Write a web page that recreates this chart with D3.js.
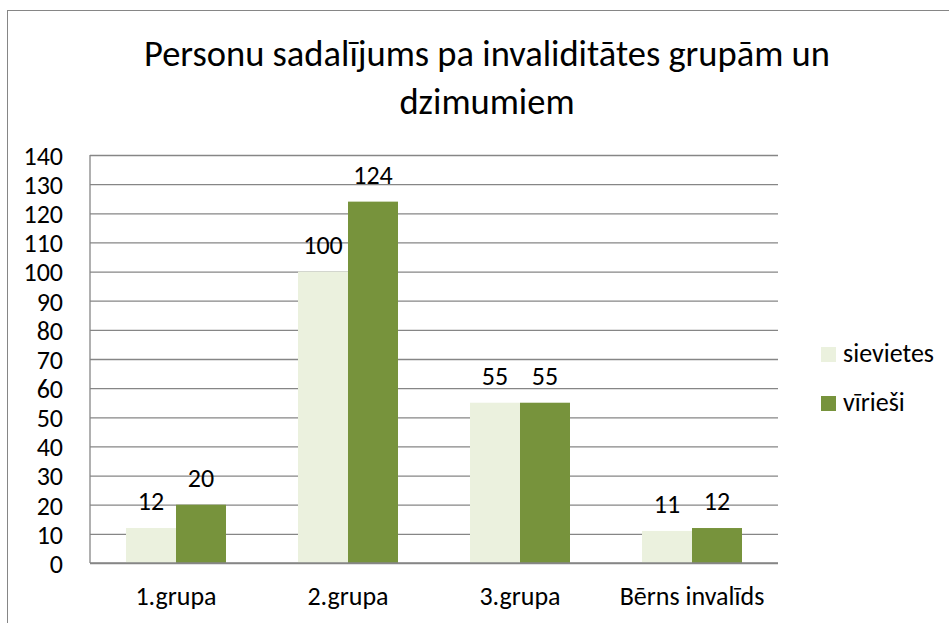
<!DOCTYPE html>
<html>
<head>
<meta charset="utf-8">
<script src="https://cdn.jsdelivr.net/npm/d3@7"></script>
<style>
  body { margin: 0; background: #fff; }
  text { font-family: Calibri, Carlito, Lato, sans-serif; fill: #000; }
</style>
</head>
<body>
<div id="chart"></div>
<script>
// chart data
const categories = ["1.grupa", "2.grupa", "3.grupa", "Bērns invalīds"];
const seriesNames = ["sievietes", "vīrieši"];
const sievietes = [12, 100, 55, 11];
const virviesi = [20, 124, 55, 12];
const yTicks = [0, 10, 20, 30, 40, 50, 60, 70, 80, 90, 100, 110, 120, 130, 140];
const titleLines = ["Personu sadalījums pa invaliditātes grupām un", "dzimumiem"];
const colors = ["#ebf1de", "#77933c"];

const width = 949, height = 623;
const plot = {left: 90, right: 778, top: 155, bottom: 563};
const fs = "26px";

const svg = d3.select("#chart").append("svg")
  .attr("width", width)
  .attr("height", height);

// outer chart frame
svg.append("rect")
  .attr("x", 7.5).attr("y", 10.5)
  .attr("width", 960).attr("height", 640)
  .attr("fill", "none")
  .attr("stroke", "#868686");

// title
svg.append("text")
  .attr("text-anchor", "middle")
  .style("font-size", "36.5px")
  .selectAll("tspan")
  .data(titleLines)
  .join("tspan")
    .attr("x", 487)
    .attr("y", (d, i) => 66 + i * 48)
    .text(d => d);

const x = d3.scaleBand()
  .domain(categories)
  .range([plot.left, plot.right]);

const inner = d3.scaleBand()
  .domain(seriesNames)
  .range([0, 100]);

const y = d3.scaleLinear()
  .domain([0, 140])
  .range([plot.bottom, plot.top]);

// gridlines
svg.append("g")
  .attr("transform", `translate(${plot.left},0)`)
  .call(d3.axisLeft(y).tickValues(yTicks).tickSize(-(plot.right - plot.left)).tickFormat(""))
  .call(g => g.select(".domain").remove())
  .call(g => g.selectAll(".tick line").attr("stroke", "#868686").attr("stroke-width", 1.3));

// y tick labels
svg.append("g")
  .attr("transform", `translate(${plot.left - 27},0)`)
  .call(d3.axisLeft(y).tickValues(yTicks).tickSize(0).tickPadding(0))
  .call(g => g.select(".domain").remove())
  .call(g => g.selectAll("text").style("font-size", fs).attr("font-family", null).attr("dy", "0.36em"));

// y axis line
svg.append("line")
  .attr("x1", plot.left).attr("x2", plot.left)
  .attr("y1", plot.top).attr("y2", plot.bottom)
  .attr("stroke", "#868686").attr("stroke-width", 1.3);

const rows = categories.map((c, i) => ({cat: c, vals: [sievietes[i], virviesi[i]]}));

const groups = svg.append("g").selectAll("g")
  .data(rows)
  .join("g")
  .attr("transform", d => `translate(${x(d.cat) + x.bandwidth() / 2 - 50},0)`);

groups.selectAll("rect")
  .data(d => d.vals.map((v, j) => ({name: seriesNames[j], v, j})))
  .join("rect")
  .attr("x", d => inner(d.name))
  .attr("y", d => y(d.v))
  .attr("width", inner.bandwidth())
  .attr("height", d => y(0) - y(d.v))
  .attr("fill", d => colors[d.j]);

groups.selectAll("text")
  .data(d => d.vals.map((v, j) => ({name: seriesNames[j], v, j})))
  .join("text")
  .attr("x", d => inner(d.name) + inner.bandwidth() / 2)
  .attr("y", d => y(d.v) - 18)
  .attr("text-anchor", "middle")
  .style("font-size", fs)
  .text(d => d.v);

// x axis line and labels
svg.append("line")
  .attr("x1", plot.left).attr("x2", plot.right)
  .attr("y1", y(0)).attr("y2", y(0))
  .attr("stroke", "#868686").attr("stroke-width", 1.3);

svg.append("g").selectAll("text")
  .data(categories)
  .join("text")
  .attr("x", d => x(d) + x.bandwidth() / 2)
  .attr("y", 605)
  .attr("text-anchor", "middle")
  .style("font-size", fs)
  .text(d => d);

// legend
const legend = svg.append("g").selectAll("g")
  .data(seriesNames)
  .join("g")
  .attr("transform", (d, i) => `translate(821,${347 + i * 49})`);

legend.append("rect")
  .attr("width", 15).attr("height", 15)
  .attr("fill", (d, i) => colors[i]);

legend.append("text")
  .attr("x", 22)
  .attr("y", 15)
  .style("font-size", fs)
  .text(d => d);
</script>
</body>
</html>
